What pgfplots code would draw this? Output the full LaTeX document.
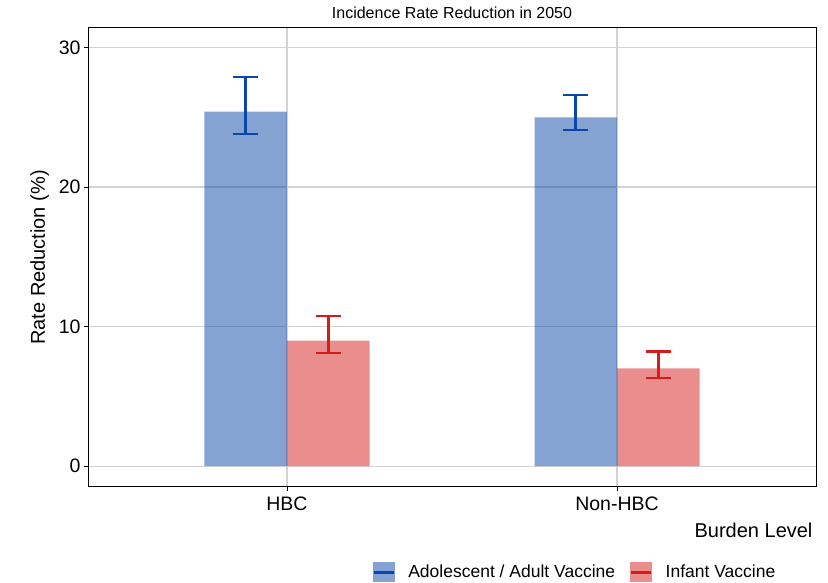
\documentclass[border=0pt]{standalone}
\usepackage{pgfplots}
\pgfplotsset{compat=1.18}
\usepackage{fontspec}
\setmainfont{Liberation Sans}
\definecolor{bluebar}{HTML}{0A47A8}
\definecolor{redbar}{HTML}{D41C1C}
\definecolor{gridc}{HTML}{D3D3D3}
\begin{document}
\begin{tikzpicture}[x=1pt,y=1pt]
\useasboundingbox (0,0) rectangle (828,583);
\begin{axis}[
  at={(88pt,96pt)}, anchor=south west,
  scale only axis, width=728pt, height=459pt,
  ybar=0pt, bar width=0.25,
  xmin=-0.603, xmax=1.603,
  ymin=-1.5, ymax=31.4,
  xtick={0,1}, xticklabels={HBC,Non-HBC},
  ytick={0,10,20,30},
  grid=major,
  major grid style={gridc, line width=1.1pt},
  axis line style={black, line width=1pt},
  tick style={black, line width=0.8pt},
  tick align=outside, major tick length=4pt,
  xtick pos=bottom, ytick pos=left,
  /pgf/number format/assume math mode=true,
  tick label style={font=\fontsize{19.5}{20}\selectfont},
  xticklabel style={yshift=-2pt},
  title={Incidence Rate Reduction in 2050},
  title style={font=\fontsize{16}{17}\selectfont, at={(0.5,1)}, above, yshift=0pt, anchor=south},
  ylabel={Rate Reduction (\%)},
  ylabel style={font=\fontsize{20}{21}\selectfont, yshift=3pt},
  xlabel={Burden Level},
  xlabel style={font=\fontsize{20}{21}\selectfont, at={(1,0)}, anchor=north east, yshift=-32pt},
  legend style={at={(0.669,-0.186)}, anchor=center, draw=none, legend columns=2,
    font=\fontsize{17.5}{18}\selectfont,
    /tikz/every odd column/.append style={column sep=11pt},
    /tikz/every even column/.append style={column sep=13pt}},
  legend cell align=left,
]
\addplot+[fill=bluebar, fill opacity=0.5, draw=none, mark=none,
  legend image code/.code={
    \fill[bluebar, opacity=0.5] (0pt,-10pt) rectangle (22pt,10pt);
    \draw[bluebar, line width=2.5pt] (1pt,0pt) -- (21pt,0pt);},
  error bars/.cd, y dir=both, y explicit,
  error bar style={bluebar, line width=2.6pt, opacity=1},
  error mark options={rotate=90, mark size=12.5pt, line width=2.6pt, bluebar, opacity=1},
] table[x=x, y=y, y error plus=ep, y error minus=em] {
x y ep em
0 25.4 2.5 1.6
1 25.0 1.6 0.9
};
\addlegendentry{Adolescent / Adult Vaccine}
\addplot+[fill=redbar, fill opacity=0.5, draw=none, mark=none,
  legend image code/.code={
    \fill[redbar, opacity=0.5] (0pt,-10pt) rectangle (22pt,10pt);
    \draw[redbar, line width=2.5pt] (1pt,0pt) -- (21pt,0pt);},
  error bars/.cd, y dir=both, y explicit,
  error bar style={redbar, line width=2.6pt, opacity=1},
  error mark options={rotate=90, mark size=12.5pt, line width=2.6pt, redbar, opacity=1},
] table[x=x, y=y, y error plus=ep, y error minus=em] {
x y ep em
0 9.0 1.75 0.9
1 7.0 1.2 0.7
};
\addlegendentry{Infant Vaccine}
\end{axis}
\end{tikzpicture}
\end{document}
